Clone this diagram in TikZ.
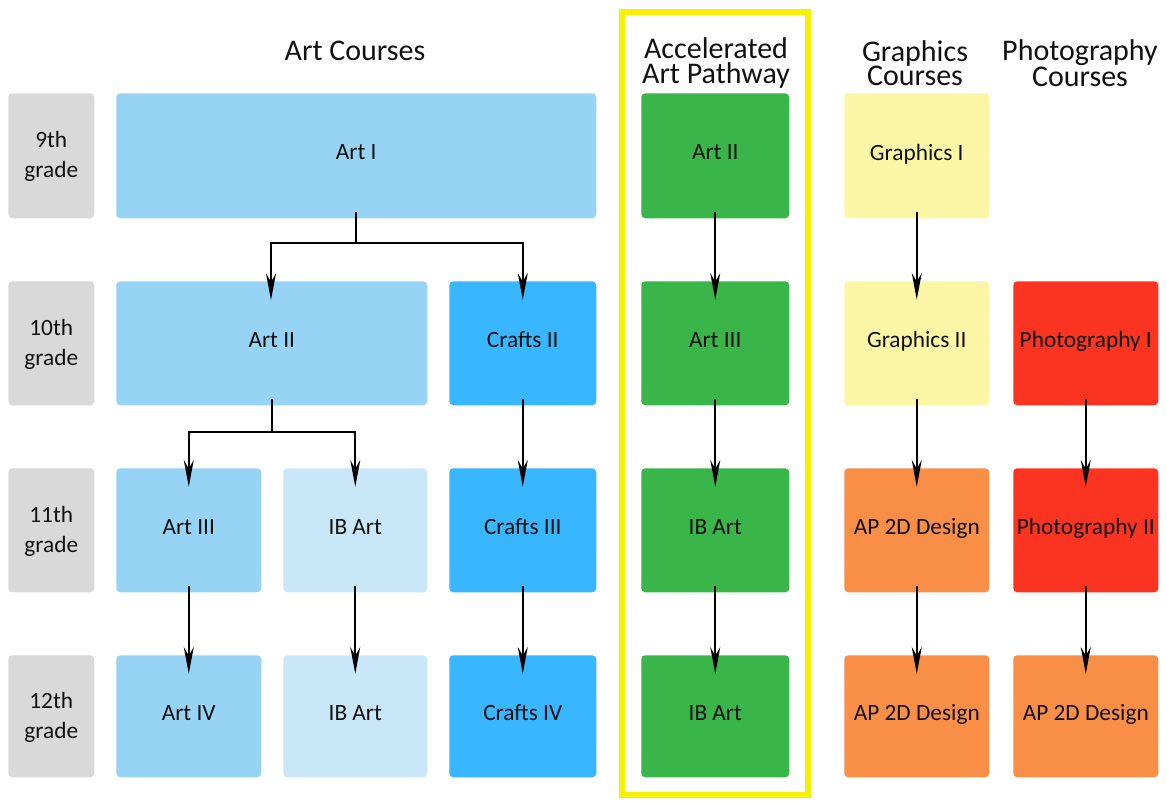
\documentclass[tikz,border=0pt]{standalone}
\usepackage{fontspec}
\setmainfont{Carlito}
\usetikzlibrary{arrows.meta}
\definecolor{gradegray}{HTML}{D9D9D9}
\definecolor{artblue}{HTML}{96D3F5}
\definecolor{ibblue}{HTML}{C9E7F8}
\definecolor{craftblue}{HTML}{38B6FF}
\definecolor{accgreen}{HTML}{3AB54A}
\definecolor{gfxyellow}{HTML}{FBF5A6}
\definecolor{aporange}{HTML}{F98E47}
\definecolor{photored}{HTML}{FA3420}
\definecolor{frameyellow}{HTML}{F5F200}
\definecolor{txt}{HTML}{111111}
\tikzset{
  box/.style={rectangle, rounded corners=3pt, inner sep=0pt, anchor=north west,
    font=\fontsize{17.5}{19}\selectfont, text=txt, text depth=5.5pt},
  grade/.style={box, fill=gradegray, align=center, minimum width=64.5pt, text depth=2pt, font=\fontsize{17.5}{22.5}\selectfont},
  title/.style={align=center, font=\fontsize{22.5}{18.25}\selectfont, inner sep=0pt, text=txt},
  conn/.style={line width=1.25pt, -{Stealth[length=20pt,width=7.5pt,inset=6.5pt]}},
  plain/.style={line width=1.25pt}
}
\begin{document}
\begin{tikzpicture}[x=0.75pt,y=-0.75pt]
\useasboundingbox (0,0) rectangle (1167,800);
% grade boxes
\node[grade, minimum height=93.75pt] (g9) at (8,93) {9th\\grade};
\node[grade, minimum height=93pt] (g10) at (8,281) {10th\\grade};
\node[grade, minimum height=93pt] (g11) at (8,468) {11th\\grade};
\node[grade, minimum height=91.5pt] (g12) at (8,655) {12th\\grade};
% titles
\node[title] (tart) at (355,51) {Art Courses};
\node[title] (tacc) at (716,63) {Accelerated\\Art Pathway};
\node[title] (tgfx) at (915,63) {Graphics\\Courses};
\node[title] (tpho) at (1080,63) {Photography\\Courses};
% art column
\node[box, fill=artblue, minimum width=360pt, minimum height=93.75pt] (art1) at (116,93) {Art I};
\node[box, fill=artblue, minimum width=233.25pt, minimum height=93pt] (art2) at (116,281) {Art II};
\node[box, fill=craftblue, minimum width=110.25pt, minimum height=93pt] (cr2) at (449,281) {Crafts II};
\node[box, fill=artblue, minimum width=108.75pt, minimum height=93pt] (art3) at (116,468) {Art III};
\node[box, fill=ibblue, minimum width=108pt, minimum height=93pt] (ib11) at (283,468) {IB Art};
\node[box, fill=craftblue, minimum width=110.25pt, minimum height=93pt] (cr3) at (449,468) {Crafts III};
\node[box, fill=artblue, minimum width=108.75pt, minimum height=91.5pt] (art4) at (116,655) {Art IV};
\node[box, fill=ibblue, minimum width=108pt, minimum height=91.5pt] (ib12) at (283,655) {IB Art};
\node[box, fill=craftblue, minimum width=110.25pt, minimum height=91.5pt] (cr4) at (449,655) {Crafts IV};
% accelerated
\node[box, fill=accgreen, minimum width=111pt, minimum height=93.75pt] (acc1) at (641,93) {Art II};
\node[box, fill=accgreen, minimum width=111pt, minimum height=93pt] (acc2) at (641,281) {Art III};
\node[box, fill=accgreen, minimum width=111pt, minimum height=93pt] (acc3) at (641,468) {IB Art};
\node[box, fill=accgreen, minimum width=111pt, minimum height=91.5pt] (acc4) at (641,655) {IB Art};
% graphics
\node[box, fill=gfxyellow, minimum width=108.75pt, minimum height=93.75pt] (gfx1) at (844,93) {Graphics I};
\node[box, fill=gfxyellow, minimum width=108.75pt, minimum height=93pt] (gfx2) at (844,281) {Graphics II};
\node[box, fill=aporange, minimum width=108.75pt, minimum height=93pt] (gfx3) at (844,468) {AP 2D Design};
\node[box, fill=aporange, minimum width=108.75pt, minimum height=91.5pt] (gfx4) at (844,655) {AP 2D Design};
% photography
\node[box, fill=photored, minimum width=108.75pt, minimum height=93pt] (pho1) at (1013,281) {Photography I};
\node[box, fill=photored, minimum width=108.75pt, minimum height=93pt] (pho2) at (1013,468) {Photography II};
\node[box, fill=aporange, minimum width=108.75pt, minimum height=91.5pt] (pho3) at (1013,655) {AP 2D Design};
% yellow frame
\draw[frameyellow, line width=4.5pt] (622,12) rectangle (808,795);
% branching connectors
\coordinate (j1) at (356,243);
\coordinate (j2) at (272,432);
\coordinate (t1) at (271,300);
\draw[plain] ([yshift=5pt]art1.south -| j1) -- (j1);
\draw[conn] (j1) -| (t1);
\draw[conn] (j1) -| ([yshift=-14pt]cr2.north);
\draw[plain] ([yshift=5pt]art2.south -| j2) -- (j2);
\draw[conn] (j2) -| ([yshift=-14pt]art3.north);
\draw[conn] (j2) -| ([yshift=-14pt]ib11.north);
% straight connectors
\foreach \a/\b in {cr2/cr3, cr3/cr4, art3/art4, ib11/ib12, acc1/acc2, acc2/acc3, acc3/acc4, gfx1/gfx2, gfx2/gfx3, gfx3/gfx4, pho1/pho2, pho2/pho3}
  \draw[conn] ([yshift=5pt]\a.south) -- ([yshift=-14pt]\b.north);
\end{tikzpicture}
\end{document}
